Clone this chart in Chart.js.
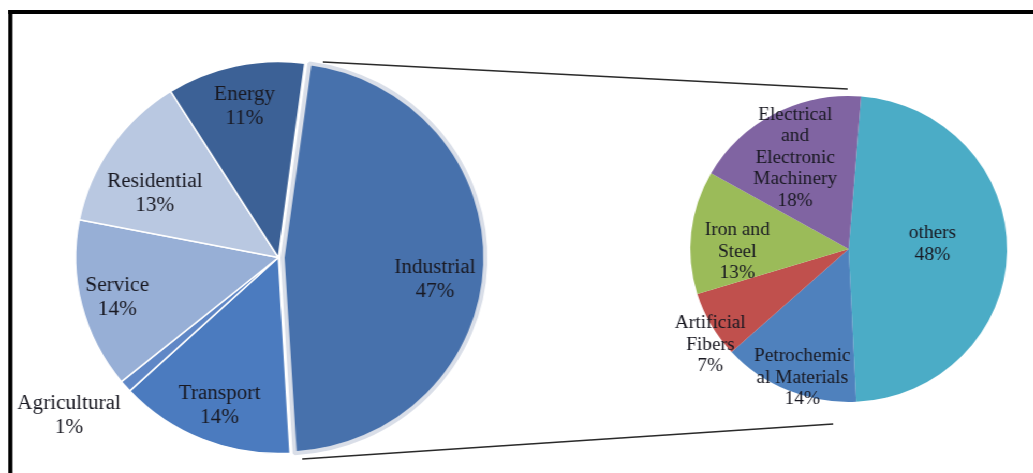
<!DOCTYPE html>
<html lang="en">
<head>
  <meta charset="UTF-8" />
  <title>Energy Consumption by Sector</title>
  <script src="https://cdn.jsdelivr.net/npm/chart.js"></script>
  <style>
    html, body {
      margin: 0;
      background: #fff;
      overflow: hidden;
    }

    /* the whole figure is a little wider than tall */
    .wrap {
      position: relative;
      width: 1000px;
      height: 473px;
      overflow: hidden;
      transform: scaleX(1.035);
      transform-origin: 0 0;
    }

    .frame {
      position: absolute;
      left: 8px;
      top: 10px;
      width: 1100px;
      height: 600px;
      border-left: 4px solid #000;
      border-top: 4px solid #000;
    }

    #chart-sector, #chart-industry {
      position: absolute;
      top: 0;
    }
    #chart-sector { left: 0; }
    #chart-industry { left: 540px; }
  </style>
</head>
<body>
  <div class="wrap">
    <div class="frame"></div>
    <canvas id="chart-sector" width="1000" height="473"></canvas>
    <canvas id="chart-industry" width="460" height="473"></canvas>
  </div>

  <script>
    // sectors, clockwise starting with Industrial
    const sectorNames = [['Industrial'], ['Transport'], ['Agricultural'], ['Service'], ['Residential'], ['Energy']];
    const sectorValues = [47, 14, 1, 14, 13, 11];
    const sectorColors = ['#4771ac', '#4b7bbf', '#5f87c6', '#97afd6', '#b9c8e1', '#3c6196'];

    // split of the Industrial slice, clockwise starting with others
    const industryNames = [['others'], ['Petrochemic', 'al Materials'], ['Artificial', 'Fibers'], ['Iron and', 'Steel'], ['Electrical', 'and', 'Electronic', 'Machinery']];
    const industryValues = [48, 14, 7, 13, 18];
    const industryColors = ['#4bacc6', '#4f81bd', '#c0504d', '#9bbb59', '#8064a2'];

    // label anchors: [degrees clockwise from top, distance as share of radius]
    const sectorPlace = [[98.5, 0.78], [201, 0.81], [232, 1.31], [255.7, 0.82], [298, 0.69], [347.8, 0.79]];
    const industryPlace = [[86.5, 0.53], [199.2, 0.89], [234.3, 1.076], [268.4, 0.704], [330.4, 0.684]];

    // Chart.js pushes an offset slice outward as well as sideways; keep it on the pie's radius
    const keepRadius = {
      id: 'keepRadius',
      afterDatasetUpdate(chart, args) {
        args.meta.data.forEach(arc => {
          const off = (arc.options.offset || 0) / 4;
          const fix = 1 - Math.sin(Math.min(Math.PI, arc.circumference));
          arc.outerRadius -= off * fix;
        });
      }
    };

    // writes "name / NN%" inside (or next to) each slice
    const sliceLabels = {
      id: 'sliceLabels',
      afterDatasetsDraw(chart, args, opts) {
        const ctx = chart.ctx;
        const meta = chart.getDatasetMeta(0);
        const cx = meta.data[0].x, cy = meta.data[0].y;
        const r = chart.data.datasets[0].radius;
        const values = chart.data.datasets[0].data;
        ctx.save();
        ctx.font = opts.font;
        ctx.fillStyle = '#191922';
        ctx.textAlign = 'center';
        ctx.textBaseline = 'middle';
        values.forEach((v, i) => {
          const [deg, frac] = opts.place[i];
          const a = deg * Math.PI / 180;
          const x = cx + r * frac * Math.sin(a);
          const y = cy - r * frac * Math.cos(a);
          const lines = opts.names[i].concat(v + '%');
          const top = y - (lines.length - 1) * opts.lineHeight / 2;
          lines.forEach((t, j) => ctx.fillText(t, x, top + j * opts.lineHeight));
        });
        ctx.restore();
      }
    };

    // the two lines leading from the Industrial slice to the second pie
    const connectors = {
      id: 'connectors',
      beforeDatasetsDraw(chart) {
        const ctx = chart.ctx;
        ctx.save();
        ctx.strokeStyle = '#2a2a2a';
        ctx.lineWidth = 1.5;
        ctx.beginPath();
        ctx.moveTo(312, 62);
        ctx.lineTo(819, 89);
        ctx.moveTo(292, 459);
        ctx.lineTo(805, 424);
        ctx.stroke();
        ctx.restore();
      }
    };

    new Chart(document.getElementById('chart-sector').getContext('2d'), {
      type: 'pie',
      data: {
        labels: sectorNames.map(n => n.join(' ')),
        datasets: [{
          data: sectorValues,
          backgroundColor: sectorColors,
          borderColor: ['#d9dee8', '#fff', '#fff', '#fff', '#fff', '#fff'],
          borderWidth: [4, 1.5, 1.5, 1.5, 1.5, 1.5],
          offset: [16, 0, 0, 0, 0, 0],
          rotation: 7.5,
          radius: 196
        }]
      },
      options: {
        responsive: false,
        animation: false,
        layout: { padding: { left: 0, right: 462, top: 42, bottom: 0 } },
        plugins: {
          legend: { display: false },
          tooltip: { enabled: false },
          sliceLabels: { names: sectorNames, place: sectorPlace, font: '20.5px "Liberation Serif"', lineHeight: 24 }
        }
      },
      plugins: [keepRadius, connectors, sliceLabels]
    });

    new Chart(document.getElementById('chart-industry').getContext('2d'), {
      type: 'pie',
      data: {
        labels: industryNames.map(n => n.join(' ')),
        datasets: [{
          data: industryValues,
          backgroundColor: industryColors,
          borderWidth: 0,
          rotation: 4.5,
          radius: 153
        }]
      },
      options: {
        responsive: false,
        animation: false,
        layout: { padding: { left: 100, right: 0, top: 25, bottom: 0 } },
        plugins: {
          legend: { display: false },
          tooltip: { enabled: false },
          sliceLabels: { names: industryNames, place: industryPlace, font: '18.7px "Liberation Serif"', lineHeight: 21.5 }
        }
      },
      plugins: [sliceLabels]
    });
  </script>
</body>
</html>
